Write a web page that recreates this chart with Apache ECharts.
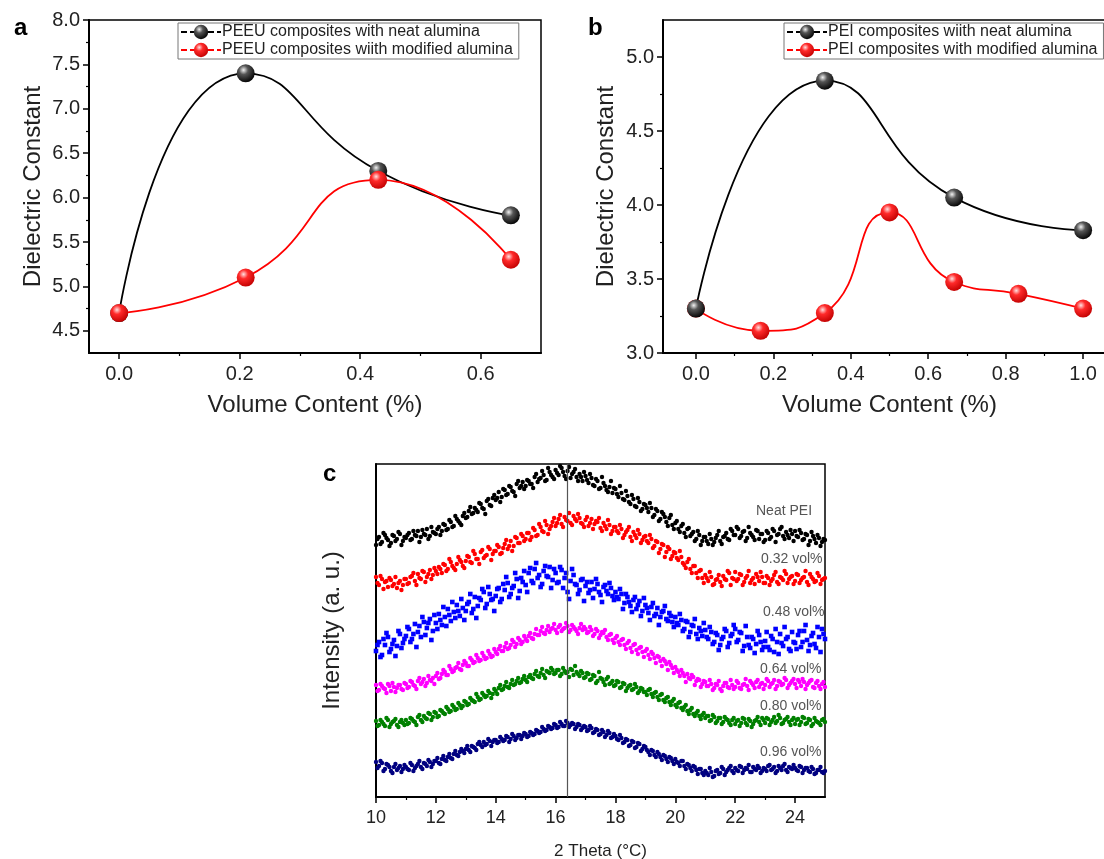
<!DOCTYPE html>
<html>
<head>
<meta charset="utf-8">
<script src="https://cdn.jsdelivr.net/npm/echarts@6/dist/echarts.min.js"></script>
<style>
html, body { margin: 0; padding: 0; background: #fff; }
#chart { width: 1104px; height: 859px; }
</style>
</head>
<body>
<div id="chart"></div>
<script>
// panel a : PEEU
var peeuVol = [0, 0.21, 0.43, 0.65];
var peeuNeat = [4.7, 7.4, 6.3, 5.8];
var peeuModified = [4.7, 5.1, 6.2, 5.3];

// panel b : PEI
var peiVolNeat = [0, 0.333, 0.667, 1.0];
var peiNeat = [3.3, 4.84, 4.05, 3.83];
var peiVolModified = [0, 0.167, 0.333, 0.5, 0.667, 0.833, 1.0];
var peiModified = [3.3, 3.15, 3.27, 3.95, 3.48, 3.40, 3.30];

// tick labels
var aTicksX = [0, 0.2, 0.4, 0.6];
var aTicksY = [4.5, 5.0, 5.5, 6.0, 6.5, 7.0, 7.5, 8.0];
var bTicksX = [0, 0.2, 0.4, 0.6, 0.8, 1.0];
var bTicksY = [3.0, 3.5, 4.0, 4.5, 5.0];
var cTicksX = [10, 12, 14, 16, 18, 20, 22, 24];

// panel c : XRD intensity (a.u.), two interleaved reads per pattern
// set A at 10.0, 10.1 ... 25.0 ; set B at 10.05, 10.15 ... 24.95
var thetaStart = 10, thetaStep = 0.1;
var xrdNeat = [
252,260,255,262,257,254,261,258,263,256, 259,264,258,262,266,260,263,268,261,265,
263,270,266,272,268,275,271,278,274,281, 279,286,283,289,285,293,288,296,292,299,
297,305,300,307,303,310,305,313,309,315, 311,316,313,320,315,319,322,317,325,320,
327,322,329,321,326,319,325,320,323,316, 321,314,319,311,316,309,314,307,310,304,
308,300,304,297,301,293,298,290,295,288, 292,285,289,282,286,278,283,275,279,272,
274,268,271,264,268,261,265,258,262,256, 260,253,258,255,262,256,260,264,257,266,
262,268,261,266,259,264,260,267,258,263, 257,264,260,266,262,268,261,265,259,263,
266,260,264,258,262,256,261,254,259,255, 257];
var xrdNeatB = [
258,253,264,259,251,262,256,265,252,260, 262,257,266,261,255,267,262,258,270,264,
268,262,273,267,277,270,281,276,272,284, 280,290,284,287,294,289,283,298,291,302,
299,295,308,302,311,306,301,316,311,308, 317,313,309,323,318,326,316,329,322,318,
324,331,325,318,330,323,328,316,320,325, 317,323,312,318,308,320,311,305,316,309,
303,311,298,306,295,302,291,299,286,293, 289,294,280,288,276,285,280,271,282,268,
276,265,273,260,269,263,256,266,252,260, 256,263,252,259,266,253,261,258,268,262,
270,259,265,256,270,262,257,266,263,255, 266,258,268,255,263,270,258,262,267,256,
261,267,257,263,252,265,258,262,251,258];
var xrd032 = [
220,212,218,215,210,217,213,209,216,212, 218,214,221,216,223,218,225,220,227,222,
226,230,224,232,228,235,229,233,237,231, 236,240,234,243,238,245,239,242,248,243,
246,250,244,253,248,256,251,259,254,261, 258,264,260,267,262,270,265,272,268,275,
271,278,273,280,276,274,281,276,279,273, 277,271,278,273,275,269,274,268,272,266,
270,264,268,262,267,260,265,259,263,257, 261,254,258,251,255,248,252,245,248,241,
244,237,240,232,235,228,231,224,226,219, 222,216,220,213,218,215,221,217,224,219,
225,218,222,215,221,214,219,223,216,220, 214,219,216,222,215,220,217,223,218,221,
216,222,217,220,215,223,218,216,221,217, 219];
var xrd032B = [
214,221,208,216,219,211,220,214,207,218, 213,220,224,212,219,226,215,223,218,229,
223,228,233,226,238,231,227,240,235,229, 241,235,246,238,233,247,241,250,237,246,
252,243,249,257,251,246,260,254,263,256, 264,257,269,261,273,266,276,263,271,279,
274,282,270,277,284,272,278,283,274,270, 280,274,268,276,279,266,271,277,263,270,
266,272,259,265,270,256,262,267,254,260, 256,262,249,256,244,253,240,250,238,245,
239,246,234,229,238,224,231,219,227,214, 219,225,212,217,222,211,218,226,212,218,
216,223,212,219,226,217,213,220,225,214, 221,212,218,225,213,219,226,214,220,213,
223,214,219,226,212,220,215,224,213,218];
var xrd048 = [
146,155,142,152,160,148,157,151,163,154, 161,168,158,173,165,160,175,169,178,166,
174,183,172,180,188,176,185,192,181,189, 186,195,184,200,191,197,205,193,203,198,
201,209,198,207,214,203,211,218,206,215, 212,224,216,228,219,210,226,221,230,217,
224,215,227,219,205,216,222,212,207,218, 211,204,215,208,213,202,210,206,214,201,
205,198,203,194,200,191,197,188,196,186, 192,184,190,181,189,180,186,178,184,175,
180,172,177,168,175,165,171,163,169,161, 167,158,165,155,162,152,160,166,154,163,
168,157,164,151,160,149,158,153,162,147, 156,150,161,145,155,163,151,158,148,165,
154,162,150,166,157,152,164,149,160,168, 158];
var xrd048B = [
152,140,158,164,145,153,141,166,149,158, 170,155,163,150,171,180,162,174,157,182,
168,177,190,171,182,195,179,186,198,177, 193,203,188,179,199,208,189,210,197,186,
208,195,213,220,200,209,224,199,219,226, 205,229,214,234,222,213,231,220,209,228,
214,230,209,224,198,228,213,203,217,196, 215,207,199,218,205,195,212,203,209,197,
200,208,188,203,195,185,200,192,181,199, 189,177,194,183,172,185,191,176,181,170,
174,183,166,176,160,172,178,158,166,174, 160,170,153,164,147,158,168,150,161,172,
155,165,146,171,152,160,144,166,155,150, 165,147,158,168,143,154,170,160,146,155,
148,166,155,172,146,161,153,170,145,163];
var xrd064 = [
112,107,111,108,113,106,110,109,112,107, 113,110,115,111,116,113,118,114,117,119,
121,118,123,125,122,128,126,130,128,132, 134,131,137,135,139,137,141,139,143,141,
145,148,146,150,148,152,155,153,157,155, 158,161,159,163,162,166,164,167,165,169,
167,170,166,169,171,167,170,166,169,167, 168,165,167,163,166,162,164,160,162,157,
159,155,157,152,154,149,152,147,149,145, 146,142,145,139,141,136,138,133,135,129,
130,125,127,121,123,118,120,116,117,113, 115,111,113,109,112,108,111,114,109,112,
110,114,108,113,111,116,112,115,110,114, 112,116,113,117,111,115,113,117,112,116,
113,117,111,115,112,116,110,114,111,113, 110];
var xrd064B = [
106,113,109,104,111,114,105,112,108,114, 109,116,112,108,119,115,111,121,116,113,
124,119,127,122,131,125,129,134,127,136, 131,139,134,142,136,144,138,146,140,148,
143,151,146,154,149,157,150,159,153,161, 156,164,158,168,162,170,163,171,168,173,
164,172,168,174,165,172,168,163,173,170, 164,170,161,168,159,165,167,157,163,154,
161,152,158,148,156,145,153,143,150,140, 148,138,143,134,140,131,136,127,132,124,
127,121,124,115,119,122,112,118,110,116, 111,117,107,113,116,106,114,110,117,108,
116,109,112,118,107,114,109,117,113,108, 118,110,114,108,116,112,119,109,114,118,
109,115,118,108,114,117,109,116,108,115];
var xrd080 = [
76,72,75,71,77,73,76,72,75,74, 77,74,78,75,80,77,81,78,83,80,
84,81,86,83,88,86,90,88,92,91, 95,93,97,95,100,98,102,101,104,103,
106,109,107,111,110,113,112,116,114,118, 117,120,119,123,121,124,122,126,124,127,
124,127,123,126,125,128,122,125,121,124, 120,123,118,121,116,119,115,118,113,116,
112,115,110,113,109,112,108,110,106,108, 105,107,103,104,100,102,97,99,95,96,
92,94,89,90,86,87,83,84,81,82, 79,81,77,80,76,79,75,78,74,77,
73,77,74,78,72,76,73,77,75,79, 74,78,75,80,76,79,74,78,75,77,
73,78,75,79,74,77,73,76,74,77, 75];
var xrd080B = [
71,77,73,79,70,75,78,70,77,72, 73,79,76,72,82,75,79,84,77,85,
80,87,84,90,85,92,87,94,89,96, 92,99,96,103,97,104,100,106,99,108,
103,112,108,115,109,117,113,119,115,121, 115,122,118,126,120,128,119,125,129,123,
127,121,129,124,120,127,131,123,126,119, 124,117,122,114,125,118,112,120,114,111,
116,109,114,106,111,107,113,104,109,105, 102,108,100,105,97,103,95,100,92,98,
90,95,87,92,83,89,81,86,78,84, 81,76,82,74,79,73,80,77,72,79,
76,71,79,74,78,70,76,80,72,77, 79,72,77,74,82,73,77,80,72,79,
77,72,80,73,78,71,79,75,72,78];
var xrd096 = [
35,31,34,28,32,26,30,27,31,28, 30,27,32,29,33,30,34,31,35,33,
36,34,38,37,40,39,43,42,45,46, 48,47,51,49,53,52,55,53,56,55,
57,55,58,57,60,58,61,59,62,61, 63,61,64,63,66,65,68,67,70,69,
72,70,73,71,74,72,73,70,72,69, 70,67,69,65,67,63,65,62,64,60,
61,57,59,55,57,52,55,50,53,48, 50,45,47,42,45,40,42,38,40,36,
38,34,36,31,33,29,31,27,28,24, 26,22,25,21,27,24,28,25,29,26,
29,26,30,27,28,25,30,27,29,26, 28,31,27,30,26,29,31,27,30,28,
29,26,30,27,29,25,28,24,27,25, 26];
var xrd096B = [
29,36,26,33,30,24,33,29,25,32, 28,34,26,31,36,28,33,37,30,36,
39,33,41,36,43,38,46,41,48,44, 51,45,50,47,55,50,52,58,51,57,
54,60,56,61,55,63,57,62,58,64, 60,65,62,67,64,70,66,71,68,73,
69,75,71,76,70,74,68,73,67,71, 66,71,64,68,62,67,60,66,59,63,
58,62,54,58,51,56,49,54,46,51, 47,42,46,40,43,37,41,35,39,33,
35,31,36,28,32,26,30,23,28,22, 24,29,20,26,23,30,22,27,31,24,
27,31,24,29,32,25,28,31,24,29, 26,32,28,24,31,27,33,25,29,32,
27,31,24,29,26,30,23,27,30,24];

var xrdNames = ['Neat PEI', '0.32 vol%', '0.48 vol%', '0.64 vol%', '0.80 vol%', '0.96 vol%'];
var xrdColors = ['#000000', '#ff0000', '#0000ff', '#ff00ff', '#008000', '#000080'];
var xrdSetsA = [xrdNeat, xrd032, xrd048, xrd064, xrd080, xrd096];
var xrdSetsB = [xrdNeatB, xrd032B, xrd048B, xrd064B, xrd080B, xrd096B];
var refTheta = 16.4;

var FONT = 'Liberation Sans, Arial, sans-serif';

function sphere(c0, c1, c2) {
  return { type: 'radial', x: 0.38, y: 0.32, r: 0.72,
    colorStops: [{ offset: 0, color: c0 }, { offset: 0.35, color: c1 }, { offset: 1, color: c2 }] };
}
var blackBall = sphere('#f2f2f2', '#555555', '#000000');
var redBall = sphere('#ffe0e0', '#ff2a2a', '#c00000');

function pairs(xs, ys) {
  return xs.map(function (x, i) { return [x, ys[i]]; });
}
function minorOf(list) {
  var out = [];
  for (var i = 0; i < list.length - 1; i++) out.push((list[i] + list[i + 1]) / 2);
  return out;
}

function majorX(grid, min, max, ticks, digits, size) {
  return {
    type: 'value', gridIndex: grid, min: min, max: max, position: 'bottom',
    axisLine: { show: true, onZero: false, lineStyle: { color: '#000', width: 2 } },
    axisTick: { show: true, customValues: ticks, length: 6, lineStyle: { color: '#000', width: 1.5 } },
    axisLabel: { customValues: ticks, color: '#222', fontSize: size, fontFamily: FONT, margin: 11,
      formatter: function (v) { return v.toFixed(digits); } },
    splitLine: { show: false }
  };
}
function majorY(grid, min, max, ticks) {
  return {
    type: 'value', gridIndex: grid, min: min, max: max, position: 'left',
    axisLine: { show: true, onZero: false, lineStyle: { color: '#000', width: 2 } },
    axisTick: { show: true, customValues: ticks, length: 6, lineStyle: { color: '#000', width: 1.5 } },
    axisLabel: { customValues: ticks, color: '#222', fontSize: 20, fontFamily: FONT, margin: 9,
      formatter: function (v) { return v.toFixed(1); } },
    splitLine: { show: false }
  };
}
function minorAxis(grid, min, max, ticks, pos) {
  return {
    type: 'value', gridIndex: grid, min: min, max: max, position: pos,
    axisLine: { show: false, onZero: false },
    axisTick: { show: ticks.length > 0, customValues: ticks, length: 3, lineStyle: { color: '#000', width: 1.2 } },
    axisLabel: { show: false },
    splitLine: { show: false }
  };
}
function nameStyle(size) {
  return { fontSize: size, fontFamily: FONT, color: '#222' };
}

var aMaxX = 0.7, bMinX = -0.085, bMaxX = 1.085;

var xA = majorX(0, -0.05, aMaxX, aTicksX, 1, 20);
xA.name = 'Volume Content (%)'; xA.nameLocation = 'middle'; xA.nameGap = 40; xA.nameTextStyle = nameStyle(24);
var yA = majorY(0, 4.25, 8.0, aTicksY);
yA.name = 'Dielectric Constant'; yA.nameLocation = 'middle'; yA.nameGap = 44; yA.nameTextStyle = nameStyle(24);
var xB = majorX(1, bMinX, bMaxX, bTicksX, 1, 20);
xB.name = 'Volume Content (%)'; xB.nameLocation = 'middle'; xB.nameGap = 40; xB.nameTextStyle = nameStyle(24);
var yB = majorY(1, 3.0, 5.25, bTicksY);
yB.name = 'Dielectric Constant'; yB.nameLocation = 'middle'; yB.nameGap = 45; yB.nameTextStyle = nameStyle(24);
var xC = majorX(2, 10, 25, cTicksX, 0, 18);
xC.name = '2 Theta (\u00B0C)'; xC.nameLocation = 'middle'; xC.nameGap = 46; xC.nameTextStyle = nameStyle(17);
xC.axisLabel.margin = 12;
var yC = {
  type: 'value', gridIndex: 2, min: 0, max: 333, position: 'left',
  name: 'Intensity (a. u.)', nameLocation: 'middle', nameGap: 32, nameTextStyle: nameStyle(24),
  axisLine: { show: true, onZero: false, lineStyle: { color: '#000', width: 2 } },
  axisTick: { show: false }, axisLabel: { show: false }, splitLine: { show: false }
};

function dielectricLine(name, xi, yi, xs, ys, lineColor, ball, z) {
  return {
    name: name, type: 'line', xAxisIndex: xi, yAxisIndex: yi, z: z,
    data: pairs(xs, ys), smooth: 0.55,
    symbol: 'circle', symbolSize: 18,
    lineStyle: { color: lineColor, width: 1.8 },
    itemStyle: { color: ball, borderWidth: 0 }
  };
}

var series = [
  dielectricLine('PEEU composites with neat alumina', 0, 0, peeuVol, peeuNeat, '#000', blackBall, 3),
  dielectricLine('PEEU composites wiith modified alumina', 0, 0, peeuVol, peeuModified, '#ff0000', redBall, 4),
  dielectricLine('PEI composites wiith neat alumina', 2, 2, peiVolNeat, peiNeat, '#000', blackBall, 4),
  dielectricLine('PEI composites with modified alumina', 2, 2, peiVolModified, peiModified, '#ff0000', redBall, 3)
];

xrdSetsA.forEach(function (setA, k) {
  var pts = setA.map(function (v, i) { return [thetaStart + i * thetaStep, v]; });
  xrdSetsB[k].forEach(function (v, i) { pts.push([thetaStart + (i + 0.5) * thetaStep, v]); });
  var s = {
    name: xrdNames[k], type: 'scatter', xAxisIndex: 4, yAxisIndex: 4,
    symbol: k === 2 ? 'rect' : 'circle', symbolSize: k === 2 ? 4.6 : 4.4,
    itemStyle: { color: xrdColors[k], opacity: 1 },
    data: pts
  };
  if (k === 0) {
    s.markLine = {
      silent: true, symbol: 'none', label: { show: false },
      lineStyle: { color: '#555', width: 1.2, type: 'solid' },
      data: [{ xAxis: refTheta }]
    };
  }
  series.push(s);
});

function legendBox(left, top, names) {
  return {
    data: names, orient: 'vertical', left: left, top: top,
    itemWidth: 40, itemHeight: 18, itemGap: 2,
    padding: [1, 6, 1, 2],
    backgroundColor: '#fff', borderColor: '#777', borderWidth: 1, borderRadius: 0,
    textStyle: { fontSize: 16, fontFamily: FONT, color: '#222', padding: [0, 0, 0, -4] },
    lineStyle: { type: [6, 3] },
    selectedMode: false
  };
}

var labelStyle = { fontSize: 14, fontFamily: FONT, fill: '#555' };
function note(x, y, t) {
  return { type: 'text', left: x, top: y, style: Object.assign({ text: t }, labelStyle) };
}
function letter(x, y, t) {
  return { type: 'text', left: x, top: y,
    style: { text: t, fontSize: 24, fontWeight: 'bold', fontFamily: FONT, fill: '#000' } };
}

function gridBox(left, top, width) {
  return { left: left, top: top, width: width, height: 333, outerBoundsMode: 'none', containLabel: false,
    show: true, borderColor: '#000', borderWidth: 1.5, backgroundColor: 'transparent' };
}

var option = {
  animation: false,
  backgroundColor: '#fff',
  grid: [gridBox(89, 20, 452), gridBox(663, 20, 453), gridBox(376, 464, 449)],
  xAxis: [
    xA, minorAxis(0, -0.05, aMaxX, minorOf(aTicksX), 'bottom'),
    xB, minorAxis(1, bMinX, bMaxX, minorOf(bTicksX), 'bottom'),
    xC, minorAxis(2, 10, 25, minorOf(cTicksX), 'bottom')
  ],
  yAxis: [
    yA, minorAxis(0, 4.25, 8.0, minorOf(aTicksY), 'left'),
    yB, minorAxis(1, 3.0, 5.25, minorOf(bTicksY), 'left'),
    yC, minorAxis(2, 0, 333, [], 'left')
  ],
  legend: [
    legendBox(178, 23, ['PEEU composites with neat alumina', 'PEEU composites wiith modified alumina']),
    legendBox(784, 23, ['PEI composites wiith neat alumina', 'PEI composites with modified alumina'])
  ],
  series: series,
  graphic: [
    letter(14, 16, 'a'), letter(588, 16, 'b'), letter(323, 462, 'c'),
    note(756, 504, xrdNames[0]), note(761, 552, xrdNames[1]), note(763, 605, xrdNames[2]),
    note(760, 662, xrdNames[3]), note(760, 699, xrdNames[4]), note(760, 745, xrdNames[5])
  ]
};

var chart = echarts.init(document.getElementById('chart'));
chart.setOption(option);
</script>
</body>
</html>
